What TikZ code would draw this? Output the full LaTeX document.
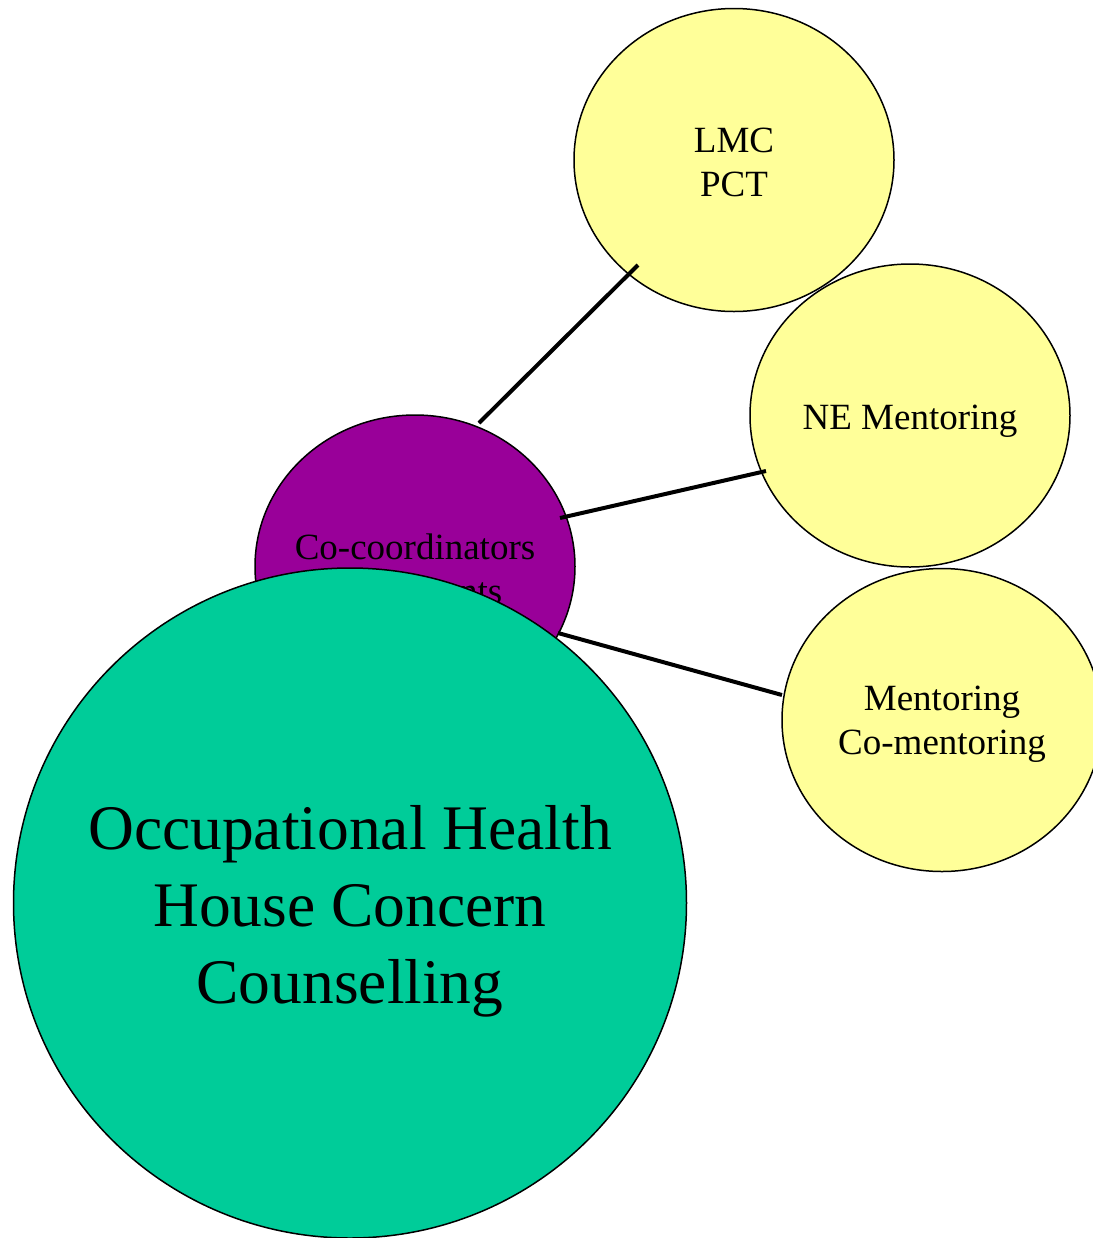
\documentclass[tikz,border=0pt]{standalone}
\usepackage{fontspec}
\setmainfont{Liberation Serif}
\usetikzlibrary{shapes.geometric}
\definecolor{bubyellow}{HTML}{FFFF99}
\definecolor{bubpurple}{HTML}{990099}
\definecolor{bubgreen}{HTML}{00CC99}
\tikzset{
  bub/.style={ellipse,draw=black,line width=0.75pt,inner sep=0pt,
    minimum width=160pt,minimum height=151.5pt},
  bubtext/.style={align=center,inner sep=0pt,font=\fontsize{18.5}{22}\selectfont},
  bigtext/.style={align=center,inner sep=0pt,font=\fontsize{31.75}{38.5}\selectfont},
  link/.style={line width=2pt}
}
\begin{document}
\begin{tikzpicture}
[x=0.5pt,y=-0.5pt]
\clip (0,0) rectangle (1093,1238);
\node[bub,fill=bubpurple] (co) at (415,566.5) {};
\node[bubtext] (cot) at (415,569) {Co-coordinators\\Consultants};
\node[bub,fill=bubyellow] (lmc) at (734,160) {};
\node[bubtext] (lmct) at (734,162) {LMC\\PCT};
\node[bub,fill=bubyellow] (ne) at (910,415.5) {};
\node[bubtext] (net) at (910,421) {NE Mentoring};
\node[bub,fill=bubyellow] (men) at (942,720) {};
\node[bubtext] (ment) at (942,724) {Mentoring\\Co-mentoring};
\coordinate (co1) at (479,423);
\coordinate (co2) at (560,518);
\coordinate (co3) at (558,633);
\coordinate (lmc1) at (638,265);
\coordinate (ne1) at (766,471);
\coordinate (men1) at (782,695);
\foreach \from/\to in {co1/lmc1,co2/ne1,co3/men1}
\draw[link] (\from) -- (\to);
\node[bub,fill=bubgreen,minimum width=336.5pt,minimum height=335pt] (oh) at (350,903) {};
\node[bigtext] (oht) at (350,911) {Occupational Health\\House Concern\\Counselling};
\end{tikzpicture}
\end{document}
